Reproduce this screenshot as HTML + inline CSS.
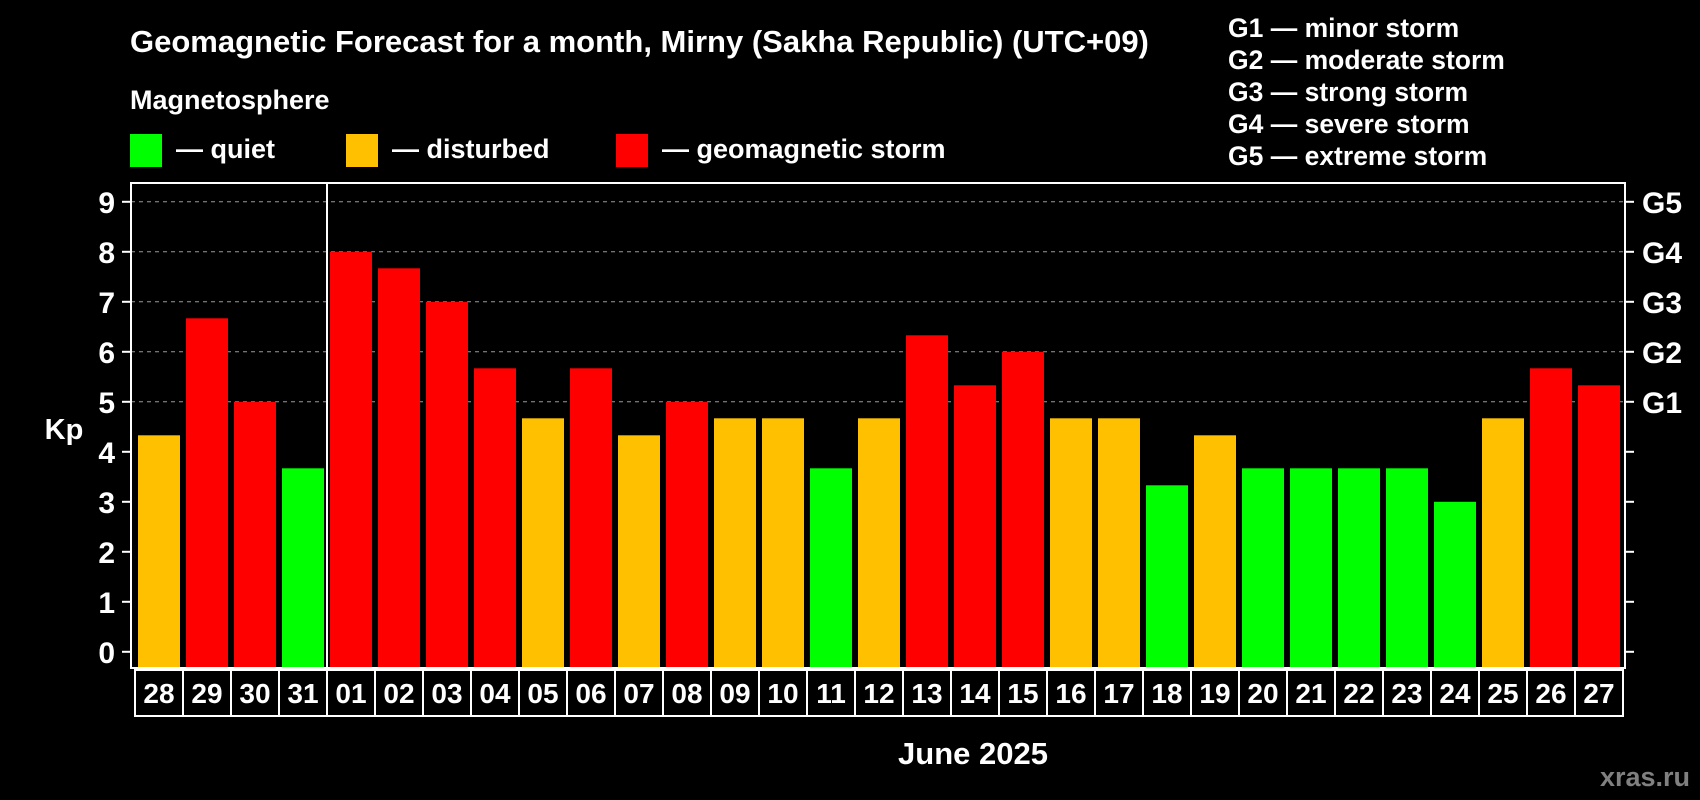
<!DOCTYPE html>
<html><head><meta charset="utf-8"><style>
html,body{margin:0;padding:0;background:#000;width:1700px;height:800px;overflow:hidden}
svg text{font-family:"Liberation Sans",Arial,sans-serif;font-weight:bold;fill:#fff}
</style></head><body>
<svg id="chart" width="1700" height="800" xmlns="http://www.w3.org/2000/svg">
<text x="130" y="52" font-size="31">Geomagnetic Forecast for a month, Mirny (Sakha Republic) (UTC+09)</text>
<text x="130" y="109" font-size="27">Magnetosphere</text>
<rect x="130" y="134" width="32" height="33" fill="#00ff00"/>
<text x="176" y="158" font-size="27">— quiet</text>
<rect x="346" y="134" width="32" height="33" fill="#ffc000"/>
<text x="392" y="158" font-size="27">— disturbed</text>
<rect x="616" y="134" width="32" height="33" fill="#ff0000"/>
<text x="662" y="158" font-size="27">— geomagnetic storm</text>
<g font-size="26.5">
<text x="1228" y="37">G1 — minor storm</text>
<text x="1228" y="69">G2 — moderate storm</text>
<text x="1228" y="101">G3 — strong storm</text>
<text x="1228" y="133">G4 — severe storm</text>
<text x="1228" y="165">G5 — extreme storm</text>
</g>
<text x="64" y="439" font-size="29" text-anchor="middle">Kp</text>
<text x="973" y="764" font-size="31" text-anchor="middle">June 2025</text>
<text x="1690" y="786" font-size="27" text-anchor="end" style="fill:#808080">xras.ru</text>
<g id="grid"></g><g id="bars"></g><g id="axes"></g><g id="labels"></g>
</svg>
<script>
const days=["28","29","30","31","01","02","03","04","05","06","07","08","09","10","11","12","13","14","15","16","17","18","19","20","21","22","23","24","25","26","27"];
const kp=[4.33,6.67,5,3.67,8,7.67,7,5.67,4.67,5.67,4.33,5,4.67,4.67,3.67,4.67,6.33,5.33,6,4.67,4.67,3.33,4.33,3.67,3.67,3.67,3.67,3,4.67,5.67,5.33];
const yTicks=[0,1,2,3,4,5,6,7,8,9];
const gLabels=["G1","G2","G3","G4","G5"];
const gLevels=[5,6,7,8,9];
const NS="http://www.w3.org/2000/svg";
const L=131,R=1625,T=183,B=668,X0=138,STEP=48,BW=42;
const y=v=>651.8-v*50.0;
const x=i=>X0+i*STEP;
function mk(tag,attrs,parent,text){const e=document.createElementNS(NS,tag);for(const k in attrs)e.setAttribute(k,attrs[k]);if(text!==undefined)e.textContent=text;document.getElementById(parent).appendChild(e);return e;}
gLevels.forEach(v=>{const e=mk("line",{x1:L,x2:R,y1:y(v),y2:y(v),stroke:"#999","stroke-dasharray":"4 4","stroke-width":1},"grid");

});
kp.forEach((v,i)=>{const c=v<4?"#00ff00":(v<5?"#ffc000":"#ff0000");
const r=mk("rect",{x:x(i),y:y(v),width:BW,height:B-y(v),fill:c},"bars");


const cell=mk("rect",{x:x(i)-3,y:670,width:STEP,height:46,fill:"none",stroke:"#fff","stroke-width":2},"labels");


const t=mk("text",{x:x(i)+BW/2,y:703,"font-size":28,"text-anchor":"middle"},"labels",days[i]);

});
const frame=mk("rect",{x:L,y:T,width:R-L,height:B-T,fill:"none",stroke:"#fff","stroke-width":2},"axes");


const sep=mk("line",{x1:x(4)-3,x2:x(4)-3,y1:T,y2:B,stroke:"#fff","stroke-width":2},"axes");


yTicks.forEach(v=>{const a=mk("line",{x1:L-9,x2:L,y1:y(v),y2:y(v),stroke:"#fff","stroke-width":2},"axes");


const b=mk("line",{x1:R,x2:R+9,y1:y(v),y2:y(v),stroke:"#fff","stroke-width":2},"axes");


const t=mk("text",{x:115,y:y(v)+11,"font-size":30,"text-anchor":"end"},"axes",String(v));

});
gLevels.forEach((v,i)=>{const t=mk("text",{x:1642,y:y(v)+11,"font-size":30},"axes",gLabels[i]);

});
</script>
</body></html>
